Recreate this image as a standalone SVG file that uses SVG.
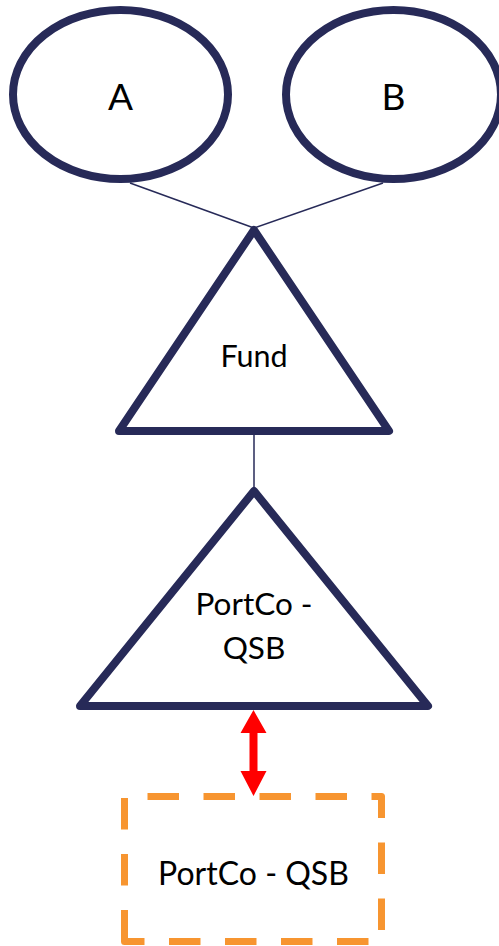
<svg xmlns="http://www.w3.org/2000/svg" width="499" height="946" viewBox="0 0 499 946">
  <style>
    .shape { fill: #ffffff; stroke: #272a58; stroke-width: 8; stroke-linejoin: round; }
    .link { fill: none; stroke: #272a58; stroke-width: 1.5; }
    .label { font-family: Lato, "Liberation Sans", sans-serif; fill: #000000; text-anchor: middle; }
    .dashed { fill: #ffffff; stroke: #f79530; stroke-width: 7; stroke-dasharray: 31.5 24.5; stroke-linejoin: round; }
    .both-ways { fill: #ff0000; }
  </style>
  <rect width="499" height="946" fill="#ffffff"/>

  <!-- ownership lines -->
  <g id="connectors">
    <line class="link" x1="130" y1="183" x2="254" y2="228"/>
    <line class="link" x1="383" y1="183" x2="254" y2="228"/>
    <line class="link" x1="254" y1="431" x2="254" y2="491"/>
    <path class="both-ways" d="M253.5 710 L266.5 733 L257.5 733 L257.5 771 L266.5 771 L253.5 796 L240.5 771 L249.5 771 L249.5 733 L240.5 733 Z"/>
  </g>

  <g id="investor-a">
    <ellipse class="shape" cx="120.5" cy="94.5" rx="107.5" ry="84.5"/>
    <text class="label" x="120.5" y="110" font-size="37">A</text>
  </g>

  <g id="investor-b">
    <ellipse class="shape" cx="393.5" cy="94.5" rx="107.5" ry="84.5"/>
    <text class="label" x="393.5" y="110" font-size="37">B</text>
  </g>

  <g id="fund">
    <polygon class="shape" points="254,230 389,431 119,431"/>
    <text class="label" x="254" y="367.3" font-size="30.5">Fund</text>
  </g>

  <g id="portco">
    <polygon class="shape" points="254,491 428,706 80,706"/>
    <text class="label" x="254" y="615" font-size="31.5">PortCo -</text>
    <text class="label" x="254" y="659" font-size="31.5">QSB</text>
  </g>

  <g id="portco-qsb-box">
    <path class="dashed" d="M124.5 941.5 V796.5 H381.5 V941.5 Z"/>
    <text class="label" x="253.5" y="885" font-size="32">PortCo - QSB</text>
  </g>
</svg>
